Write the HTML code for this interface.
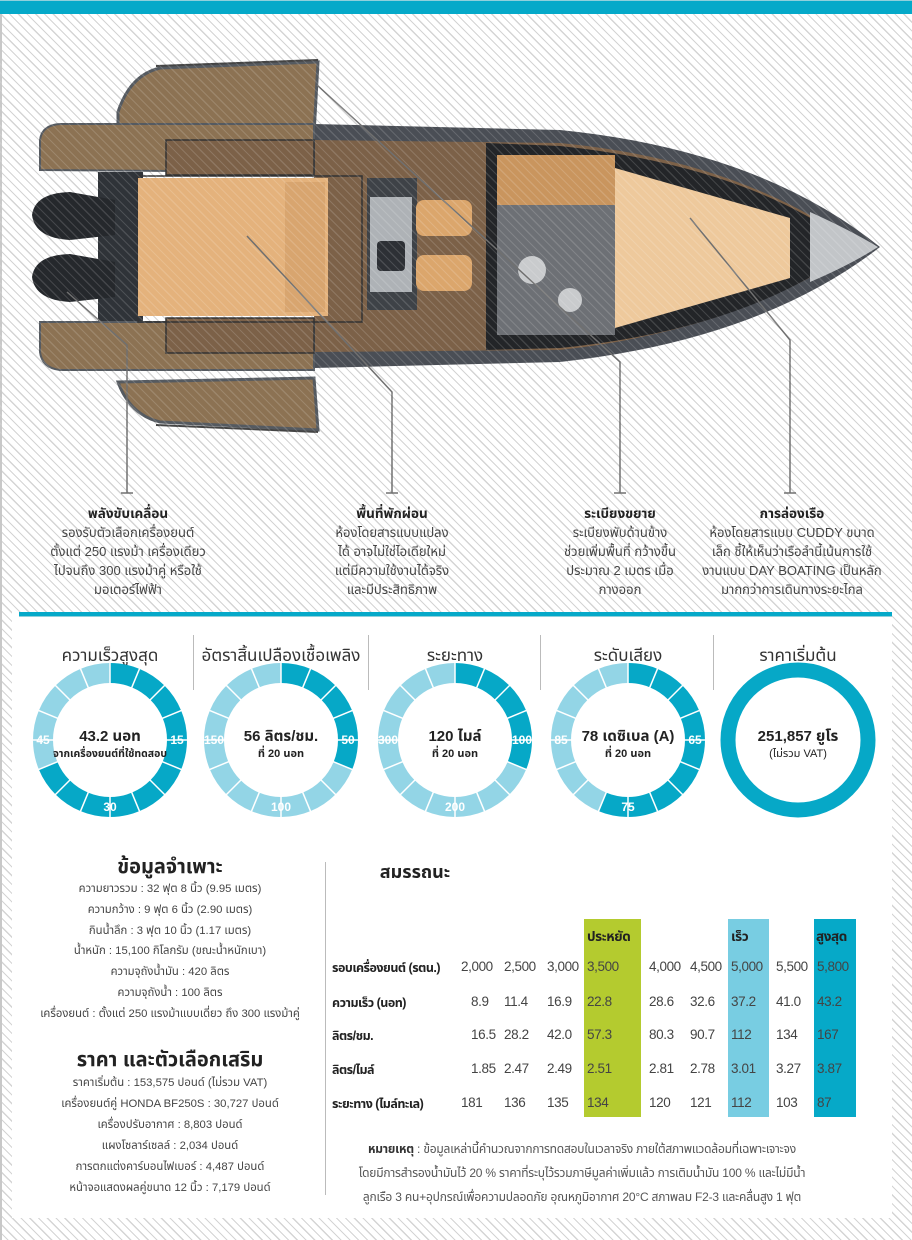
<!DOCTYPE html>
<html><head><meta charset="utf-8">
<style>
*{margin:0;padding:0;box-sizing:border-box}
body{width:912px;height:1240px;position:relative;overflow:hidden;background:#fff;
font-family:"Liberation Sans","Noto Sans CJK SC","Noto Sans Thai","DejaVu Sans",sans-serif;color:#333;
background-image:repeating-linear-gradient(45deg,#fff 0,#fff 5px,#d4d4d4 5px,#d4d4d4 6.2px);}
.a{position:absolute;white-space:nowrap}
.c{transform:translateX(-50%);text-align:center}
.lbl{font-size:13px;line-height:19px;color:#444}
.lbl b{color:#222;font-size:13.5px}
.row{position:absolute;font-size:13.5px;color:#444;letter-spacing:-0.4px}
.gt{font-size:17px;color:#333}
.sp{font-size:11.3px;color:#444}
</style></head><body>
<div class="a" style="left:0;top:0;width:912px;height:14px;background:#05a9c9;border-top:1px solid #8fd0dc"></div>
<div class="a" style="left:0;top:14px;width:2px;height:1226px;background:#c8c8c8"></div>

<svg class="a" style="left:0;top:0" width="912" height="500" viewBox="0 0 912 500">
 <path d="M118,112 Q130,75 160,68 L318,62 L314,135 L118,135 Z" fill="#8c7253" stroke="#555a60" stroke-width="3"/>
 <path d="M118,382 L314,378 L318,430 L160,422 Q130,415 118,382 Z" fill="#8c7253" stroke="#555a60" stroke-width="3"/>
 <line x1="156" y1="66" x2="318" y2="60" stroke="#444" stroke-width="2"/>
 <line x1="156" y1="425" x2="318" y2="432" stroke="#444" stroke-width="2"/>
 <path d="M314,124 L560,130 Q760,150 880,247 Q760,340 560,362 L314,368 Z" fill="#4a4e55"/>
 <path d="M314,140 L560,143 Q740,160 860,247 Q740,330 560,350 L314,352 Z" fill="#7c6148"/>
 <rect x="98" y="172" width="45" height="150" fill="#2f3338"/>
 <path d="M40,170 L40,140 Q42,125 60,124 L314,124 L314,172 Z" fill="#8c7253" stroke="#555a60" stroke-width="2"/>
 <path d="M40,322 L314,322 L314,370 L60,370 Q42,368 40,352 Z" fill="#8c7253" stroke="#555a60" stroke-width="2"/>
 <rect x="166" y="140" width="148" height="35" fill="#7c6148" stroke="#333" stroke-width="1.5"/>
 <rect x="166" y="318" width="148" height="35" fill="#7c6148" stroke="#333" stroke-width="1.5"/>
 <path d="M32,215 Q35,193 70,192 L115,200 L115,235 L70,240 Q35,238 32,215 Z" fill="#25282c"/>
 <path d="M32,277 Q35,255 70,254 L115,262 L115,297 L70,302 Q35,300 32,277 Z" fill="#25282c"/>
 <rect x="138" y="176" width="224" height="146" fill="none" stroke="#333" stroke-width="1.5"/>
 <rect x="138" y="178" width="190" height="138" fill="#e4b27c"/>
 <rect x="285" y="182" width="40" height="130" fill="#d8a56f"/>
 <rect x="367" y="178" width="50" height="132" fill="#3e4247"/>
 <rect x="370" y="197" width="42" height="95" fill="#aeb2b6"/>
 <rect x="377" y="241" width="28" height="30" fill="#2d3035" rx="4"/>
 <rect x="416" y="200" width="56" height="36" rx="8" fill="#dba66c"/>
 <rect x="416" y="255" width="56" height="36" rx="8" fill="#dba66c"/>
 <path d="M486,143 L560,146 Q740,165 845,240 L845,255 Q740,330 560,348 L486,350 Z" fill="#232528"/>
 <rect x="497" y="155" width="118" height="180" fill="#6d7075"/>
 <rect x="497" y="155" width="118" height="50" fill="#c9955e"/>
 <path d="M615,168 L790,218 L790,278 L615,328 Z" fill="#eec99c"/>
 <circle cx="532" cy="270" r="14" fill="#c9cbcd"/>
 <circle cx="570" cy="300" r="12" fill="#c9cbcd"/>
 <path d="M810,212 Q850,230 878,247 Q850,265 810,282 Z" fill="#c2c5c8"/>
 <g stroke="#707070" stroke-width="1.5" fill="none">
  <path d="M317,85 L620,362 L620,493"/>
  <path d="M247,236 L392,392 L392,493"/>
  <path d="M690,218 L790,340 L790,493"/>
  <path d="M67,292 L127,345 L127,493"/>
  <path d="M121,493 h12 M386,493 h12 M614,493 h12 M784,493 h12"/>
 </g>
</svg>
<div class="a" style="left:0;top:60px;width:912px;height:380px;background-image:repeating-linear-gradient(45deg,transparent 0,transparent 5px,rgba(255,255,255,.14) 5px,rgba(255,255,255,.14) 6.2px)"></div>

<div class="a c lbl" style="left:128px;top:504px"><b>พลังขับเคลื่อน</b><br>รองรับตัวเลือกเครื่องยนต์<br>ตั้งแต่ 250 แรงม้า เครื่องเดียว<br>ไปจนถึง 300 แรงม้าคู่ หรือใช้<br>มอเตอร์ไฟฟ้า</div>
<div class="a c lbl" style="left:392px;top:504px"><b>พื้นที่พักผ่อน</b><br>ห้องโดยสารแบบแปลง<br>ได้ อาจไม่ใช่ไอเดียใหม่<br>แต่มีความใช้งานได้จริง<br>และมีประสิทธิภาพ</div>
<div class="a c lbl" style="left:620px;top:504px"><b>ระเบียงขยาย</b><br>ระเบียงพับด้านข้าง<br>ช่วยเพิ่มพื้นที่ กว้างขึ้น<br>ประมาณ 2 เมตร เมื่อ<br>กางออก</div>
<div class="a c lbl" style="left:792px;top:504px"><b>การล่องเรือ</b><br>ห้องโดยสารแบบ CUDDY ขนาด<br>เล็ก ชี้ให้เห็นว่าเรือลำนี้เน้นการใช้<br>งานแบบ DAY BOATING เป็นหลัก<br>มากกว่าการเดินทางระยะไกล</div>

<div class="a" style="left:12px;top:612px;width:880px;height:606px;background:#fff"></div>
<div class="a" style="left:19px;top:612px;width:873px;height:5px;background:#05a9c9;border-bottom:1px solid #8fd0dc"></div>
<div class="a" style="left:193px;top:635px;width:1px;height:55px;background:#bbb"></div>
<div class="a" style="left:368px;top:635px;width:1px;height:55px;background:#bbb"></div>
<div class="a" style="left:540px;top:635px;width:1px;height:55px;background:#bbb"></div>
<div class="a" style="left:713px;top:635px;width:1px;height:55px;background:#bbb"></div>

<div class="a c gt" style="left:110px;top:643px">ความเร็วสูงสุด</div>
<div class="a c gt" style="left:281px;top:643px">อัตราสิ้นเปลืองเชื้อเพลิง</div>
<div class="a c gt" style="left:455px;top:643px">ระยะทาง</div>
<div class="a c gt" style="left:628px;top:643px">ระดับเสียง</div>
<div class="a c gt" style="left:798px;top:643px">ราคาเริ่มต้น</div>

<svg id="g" class="a" style="left:0;top:0" width="912" height="840"></svg>

<div class="a c" style="left:110px;top:729px;font-size:15px;font-weight:bold;color:#222;line-height:16px">43.2 นอท<br><span style="font-size:10.5px">จากเครื่องยนต์ที่ใช้ทดสอบ</span></div>
<div class="a c" style="left:281px;top:729px;font-size:15px;font-weight:bold;color:#222;line-height:16px">56 ลิตร/ชม.<br><span style="font-size:11px">ที่ 20 นอท</span></div>
<div class="a c" style="left:455px;top:729px;font-size:15px;font-weight:bold;color:#222;line-height:16px">120 ไมล์<br><span style="font-size:11px">ที่ 20 นอท</span></div>
<div class="a c" style="left:628px;top:729px;font-size:15px;font-weight:bold;color:#222;line-height:16px">78 เดซิเบล (A)<br><span style="font-size:11px">ที่ 20 นอท</span></div>
<div class="a c" style="left:798px;top:729px;font-size:15px;font-weight:bold;color:#222;line-height:16px">251,857 ยูโร<br><span style="font-size:11px;font-weight:normal">(ไม่รวม VAT)</span></div>

<div class="a c" style="left:170px;top:852px;font-size:20px;font-weight:bold;color:#222">ข้อมูลจำเพาะ</div>
<div class="a c sp" style="left:170px;top:879px;line-height:20.8px">ความยาวรวม : 32 ฟุต 8 นิ้ว (9.95 เมตร)<br>ความกว้าง : 9 ฟุต 6 นิ้ว (2.90 เมตร)<br>กินน้ำลึก : 3 ฟุต 10 นิ้ว (1.17 เมตร)<br>น้ำหนัก : 15,100 กิโลกรัม (ขณะน้ำหนักเบา)<br>ความจุถังน้ำมัน : 420 ลิตร<br>ความจุถังน้ำ : 100 ลิตร<br>เครื่องยนต์ : ตั้งแต่ 250 แรงม้าแบบเดี่ยว ถึง 300 แรงม้าคู่</div>
<div class="a c" style="left:170px;top:1045px;font-size:20px;font-weight:bold;color:#222">ราคา และตัวเลือกเสริม</div>
<div class="a c sp" style="left:170px;top:1073px;line-height:21px">ราคาเริ่มต้น : 153,575 ปอนด์ (ไม่รวม VAT)<br>เครื่องยนต์คู่ HONDA BF250S : 30,727 ปอนด์<br>เครื่องปรับอากาศ : 8,803 ปอนด์<br>แผงโซลาร์เซลล์ :  2,034 ปอนด์<br>การตกแต่งคาร์บอนไฟเบอร์ : 4,487 ปอนด์<br>หน้าจอแสดงผลคู่ขนาด 12 นิ้ว : 7,179 ปอนด์</div>
<div class="a" style="left:325px;top:862px;width:1px;height:333px;background:#bbb"></div>

<div class="a c" style="left:415px;top:860px;font-size:18px;font-weight:bold;color:#222">สมรรถนะ</div>
<div class="a" style="left:584px;top:919px;width:57px;height:198px;background:#b4cb2f"></div>
<div class="a" style="left:728px;top:919px;width:41px;height:198px;background:#78cde2"></div>
<div class="a" style="left:814px;top:919px;width:42px;height:198px;background:#06a9c8"></div>
<div class="row" style="left:587px;top:928px;font-weight:bold;color:#222">ประหยัด</div>
<div class="row" style="left:731px;top:928px;font-weight:bold;color:#222">เร็ว</div>
<div class="row" style="left:816px;top:928px;font-weight:bold;color:#222">สูงสุด</div>
<div id="t"></div>

<div class="a c" style="left:582px;top:1137px;font-size:12px;line-height:24px;color:#555;letter-spacing:-0.2px"><b style="color:#333">หมายเหตุ</b> : ข้อมูลเหล่านี้คำนวณจากการทดสอบในเวลาจริง ภายใต้สภาพแวดล้อมที่เฉพาะเจาะจง<br>โดยมีการสำรองน้ำมันไว้ 20 % ราคาที่ระบุไว้รวมภาษีมูลค่าเพิ่มแล้ว การเติมน้ำมัน 100 % และไม่มีน้ำ<br>ลูกเรือ 3 คน+อุปกรณ์เพื่อความปลอดภัย อุณหภูมิอากาศ 20°C สภาพลม F2-3 และคลื่นสูง 1 ฟุต</div>

<script>
var s='',D='#06a8c7',L='#93d5e6';
function seg(cx,cy,n){var r=67,o='';for(var i=0;i<16;i++){var a0=(i*22.5-90)*Math.PI/180,a1=((i+1)*22.5-90)*Math.PI/180;
o+='<path d="M'+(cx+r*Math.cos(a0))+','+(cy+r*Math.sin(a0))+' A'+r+','+r+' 0 0 1 '+(cx+r*Math.cos(a1))+','+(cy+r*Math.sin(a1))+'" fill="none" stroke="'+(i<n?D:L)+'" stroke-width="20"/>';}
for(i=0;i<16;i++){var a=(i*22.5-90)*Math.PI/180;o+='<line x1="'+(cx+55*Math.cos(a))+'" y1="'+(cy+55*Math.sin(a))+'" x2="'+(cx+78*Math.cos(a))+'" y2="'+(cy+78*Math.sin(a))+'" stroke="#fff" stroke-width="1.5"/>';}
return o;}
function lab(x,y,t){return '<text x="'+x+'" y="'+y+'" fill="#fff" font-size="12" font-weight="bold" text-anchor="middle" font-family="Liberation Sans,sans-serif">'+t+'</text>';}
var G=[[110,11,['15','30','45']],[281,5,['50','100','150']],[455,5,['100','200','300']],[628,9,['65','75','85']]];
G.forEach(function(g){var cx=g[0],cy=740;s+=seg(cx,cy,g[1]);s+=lab(cx+67,cy+4,g[2][0])+lab(cx,cy+71,g[2][1])+lab(cx-67,cy+4,g[2][2]);});
s+='<circle cx="798" cy="740" r="70" fill="none" stroke="'+D+'" stroke-width="15"/>';
document.getElementById('g').innerHTML=s;
var rows=[['รอบเครื่องยนต์ (รตน.)','2,000','2,500','3,000','3,500','4,000','4,500','5,000','5,500','5,800'],
['ความเร็ว (นอท)','8.9','11.4','16.9','22.8','28.6','32.6','37.2','41.0','43.2'],
['ลิตร/ชม.','16.5','28.2','42.0','57.3','80.3','90.7','112','134','167'],
['ลิตร/ไมล์','1.85','2.47','2.49','2.51','2.81','2.78','3.01','3.27','3.87'],
['ระยะทาง (ไมล์ทะเล)','181','136','135','134','120','121','112','103','87']];
var xs=[461,504,547,587,649,690,731,776,817],ys=[959,994,1027,1061,1095],h='';
rows.forEach(function(r,k){h+='<div class="row" style="left:332px;top:'+ys[k]+'px;font-weight:bold;color:#222;font-size:12.5px;letter-spacing:-0.5px">'+r[0]+'</div>';
for(var j=1;j<10;j++){var x=xs[j-1]+((k>0&&k<4&&j==1)?10:0);h+='<div class="row" style="left:'+x+'px;top:'+ys[k]+'px">'+r[j]+'</div>';}});
document.getElementById('t').innerHTML=h;
</script>
</body></html>
